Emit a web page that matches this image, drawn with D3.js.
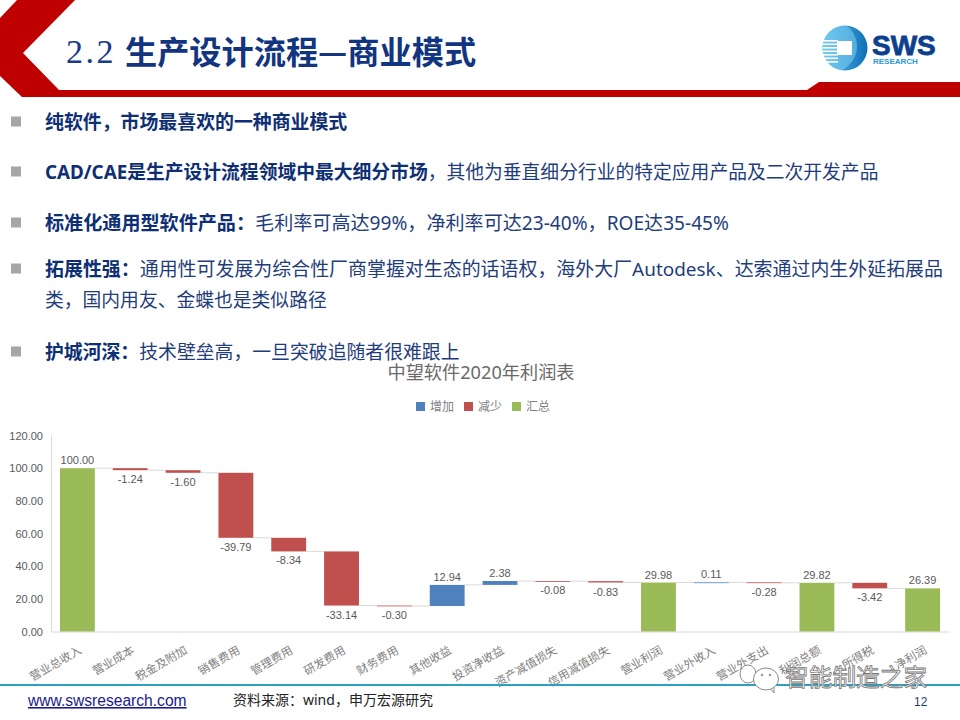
<!DOCTYPE html>
<html>
<head>
<meta charset="utf-8">
<script src="https://cdn.jsdelivr.net/npm/d3@7"></script>
<style>
html, body { margin: 0; padding: 0; background: #fff; }
svg { display: block; }
text { font-family: "Noto Sans", "Noto Sans CJK SC", sans-serif; }
</style>
</head>
<body>
<div id="chart"></div>
<script>
// chart data
const categories = ["营业总收入", "营业成本", "税金及附加", "销售费用", "管理费用", "研发费用", "财务费用", "其他收益", "投资净收益", "资产减值损失", "信用减值损失", "营业利润", "营业外收入", "营业外支出", "利润总额", "所得税", "净利润"];
const values = [100.00, -1.24, -1.60, -39.79, -8.34, -33.14, -0.30, 12.94, 2.38, -0.08, -0.83, 29.98, 0.11, -0.28, 29.82, -3.42, 26.39];
const totalCategories = ["营业总收入", "营业利润", "利润总额", "净利润"];
const yTicks = [0, 20, 40, 60, 80, 100, 120];
const legendLabels = ["增加", "减少", "汇总"];
const legendColors = ["#4f81bd", "#c0504d", "#9bbb59"];

const bullets = [
  [["纯软件，市场最喜欢的一种商业模式", true]],
  [["CAD/CAE是生产设计流程领域中最大细分市场", true], ["，其他为垂直细分行业的特定应用产品及二次开发产品", false]],
  [["标准化通用型软件产品：", true], ["毛利率可高达99%，净利率可达23-40%，ROE达35-45%", false]],
  [["拓展性强：", true], ["通用性可发展为综合性厂商掌握对生态的话语权，海外大厂Autodesk、达索通过内生外延拓展品", false]],
  [["护城河深：", true], ["技术壁垒高，一旦突破追随者很难跟上", false]]
];
const bulletY = [122, 172, 223, 269, 352];
const bulletSize = [18.9, 18.8, 19.1, 18.95, 18.85];

const width = 960, height = 720;
const navy = "#0e2f74";
const sans = "'Liberation Sans', sans-serif";

const svg = d3.select("#chart").append("svg")
  .attr("width", width)
  .attr("height", height);

// header
svg.append("polygon")
  .attr("points", "0,18 17,0 75,0 23,53 59,90 807,90 819,82 960,82 960,97 22,97 0,76")
  .attr("fill", "#bf0000");

svg.append("text").attr("x", 66).attr("y", 63)
  .attr("font-size", 34).attr("letter-spacing", 2.5).attr("fill", "#173a8a")
  .style("font-family", "'Liberation Serif', serif")
  .text("2.2");
svg.append("text").attr("x", 125).attr("y", 64)
  .attr("font-size", 32.2).attr("font-weight", 700).attr("fill", "#12357f")
  .style("font-family", "'Noto Sans CJK SC', sans-serif")
  .text("生产设计流程—商业模式");

// logo
const grad = svg.append("defs").append("linearGradient").attr("id", "logoFill");
grad.append("stop").attr("offset", "0%").attr("stop-color", "#5cc0ec");
grad.append("stop").attr("offset", "100%").attr("stop-color", "#0f6fb8");
const logo = svg.append("g").attr("transform", "translate(845,48)");
logo.append("circle").attr("r", 22.5).attr("fill", "url(#logoFill)");
logo.append("path").attr("d", "M2,-22A22,22 0 0 0 -3,22A26,26 0 0 0 2,-22Z").attr("fill", "#7fd0f2").attr("opacity", 0.55);
[-8, -4.5, -1, 2.5, 6, 9.5, 13].forEach(d => {
  logo.append("rect").attr("x", -22).attr("y", d).attr("width", 15).attr("height", 1.6).attr("fill", "#fff");
});
logo.append("rect").attr("x", -8).attr("y", -7).attr("width", 15).attr("height", 14).attr("fill", "#fff");
svg.append("text").attr("x", 872).attr("y", 55)
  .attr("font-size", 28).attr("font-weight", 700).attr("stroke", "#0d3f8f").attr("stroke-width", 0.8).attr("fill", "#0d3f8f")
  .style("font-family", sans)
  .text("SWS");
svg.append("text").attr("x", 873).attr("y", 64)
  .attr("font-size", 8).attr("font-weight", 700).attr("fill", "#2a9ad6")
  .style("font-family", sans)
  .text("RESEARCH");

// bullets
bullets.forEach((runs, i) => {
  svg.append("rect").attr("x", 11).attr("y", bulletY[i] - 5.5).attr("width", 10).attr("height", 10).attr("fill", "#a6a6a6");
  const t = svg.append("text").attr("x", 45).attr("y", bulletY[i] + 6.5).attr("font-size", bulletSize[i]);
  runs.forEach(r => {
    t.append("tspan").attr("font-weight", r[1] ? 700 : 400).attr("fill", r[1] ? navy : "#1f3d7a").text(r[0]);
  });
});
svg.append("text").attr("x", 45).attr("y", 306.5).attr("font-size", 18.8).attr("fill", "#1f3d7a")
  .text("类，国内用友、金蝶也是类似路径");

// waterfall
const x = d3.scaleBand().domain(categories).range([51, 949]).paddingInner(0.34).paddingOuter(0.17);
const y = d3.scaleLinear().domain([0, 120]).range([631.5, 435.5]);
const fmt = v => d3.format(".2f")(v).replace("−", "-");

let running = 0;
const steps = categories.map((c, i) => {
  const v = values[i];
  const isTotal = totalCategories.includes(c);
  const from = isTotal ? 0 : running;
  const to = isTotal ? v : running + v;
  running = to;
  return { c, v, from, to, end: to, color: isTotal ? legendColors[2] : (v >= 0 ? legendColors[0] : legendColors[1]) };
});

const plot = svg.append("g");

// axes
const yAxis = d3.axisLeft(y).tickValues(yTicks).tickSize(0).tickFormat(fmt);
const gy = plot.append("g").attr("transform", "translate(51,0)").call(yAxis);
gy.select(".domain").attr("stroke", "#d9d9d9");
gy.selectAll("text").attr("font-size", 11).attr("fill", "#595959").attr("dx", -5)
  .style("font-family", sans);

const xAxis = d3.axisBottom(x).tickSize(0);
const gx = plot.append("g").attr("transform", "translate(0,631.5)").call(xAxis);
gx.select(".domain").attr("stroke", "#d9d9d9");
gx.selectAll("text")
  .attr("font-size", 11.5).attr("fill", "#7f7f7f")
  .attr("text-anchor", "end")
  .attr("y", 0).attr("dy", 0)
  .attr("transform", "translate(5,21) rotate(-30)")
  .style("font-family", "'Noto Sans CJK SC', sans-serif");

// connectors
plot.selectAll("line.conn").data(steps.slice(0, -1)).join("line")
  .attr("class", "conn")
  .attr("x1", d => x(d.c) + x.bandwidth())
  .attr("x2", (d, i) => x(steps[i + 1].c))
  .attr("y1", d => y(d.end))
  .attr("y2", d => y(d.end))
  .attr("stroke", "#d9d9d9")
  .attr("stroke-width", 1);

// bars
plot.selectAll("rect.bar").data(steps).join("rect")
  .attr("class", "bar")
  .attr("x", d => x(d.c))
  .attr("width", x.bandwidth())
  .attr("y", d => y(Math.max(d.from, d.to)))
  .attr("height", d => Math.max(0.8, Math.abs(y(d.from) - y(d.to))))
  .attr("fill", d => d.color);

// data labels
plot.selectAll("text.lab").data(steps).join("text")
  .attr("class", "lab")
  .attr("x", d => x(d.c) + x.bandwidth() / 2)
  .attr("y", d => d.v >= 0 ? y(Math.max(d.from, d.to)) - 4 : y(Math.min(d.from, d.to)) + 13)
  .attr("text-anchor", "middle")
  .attr("font-size", 11)
  .attr("fill", "#595959")
  .style("font-family", sans)
  .text(d => fmt(d.v));

// chart title
svg.append("text").attr("x", 481).attr("y", 379)
  .attr("text-anchor", "middle").attr("font-size", 18.2).attr("fill", "#6a6a6a")
  .text("中望软件2020年利润表");

// legend
const legendX = d3.scalePoint().domain(legendLabels).range([416, 512]);
legendLabels.forEach((l, i) => {
  svg.append("rect").attr("x", legendX(l)).attr("y", 402).attr("width", 9).attr("height", 9).attr("fill", legendColors[i]);
  svg.append("text").attr("x", legendX(l) + 14).attr("y", 411).attr("font-size", 12).attr("fill", "#7f7f7f").text(l);
});

// footer
svg.append("rect").attr("x", 0).attr("y", 684).attr("width", width).attr("height", 2).attr("fill", "#2aa0c4");
svg.append("text").attr("x", 28).attr("y", 706).attr("font-size", 15.6).attr("fill", "#1a1a8c")
  .attr("text-decoration", "underline")
  .style("font-family", sans)
  .text("www.swsresearch.com");
svg.append("text").attr("x", 233).attr("y", 704.5).attr("font-size", 14).attr("fill", "#222").text("资料来源：wind，申万宏源研究");
svg.append("text").attr("x", 914).attr("y", 706).attr("font-size", 12).attr("fill", "#1f3a6e")
  .style("font-family", sans).text("12");

// watermark
const wm = svg.append("g").attr("fill", "#fff").attr("stroke", "#8a8a8a");
wm.append("ellipse").attr("cx", 748).attr("cy", 674).attr("rx", 8).attr("ry", 9);
wm.append("path").attr("d", "M770,688L774,693L774,686Z");
wm.append("ellipse").attr("cx", 766).attr("cy", 679).attr("rx", 12.5).attr("ry", 11);
wm.append("circle").attr("cx", 762).attr("cy", 675).attr("r", 0.8).attr("fill", "#666");
wm.append("circle").attr("cx", 770).attr("cy", 675).attr("r", 0.8).attr("fill", "#666");
svg.append("text").attr("x", 785).attr("y", 686).attr("font-size", 23.7).attr("fill", "#fff")
  .attr("stroke", "#777").attr("stroke-width", 0.8)
  .style("font-family", "'Noto Sans CJK SC', sans-serif")
  .text("智能制造之家");
</script>
</body>
</html>
